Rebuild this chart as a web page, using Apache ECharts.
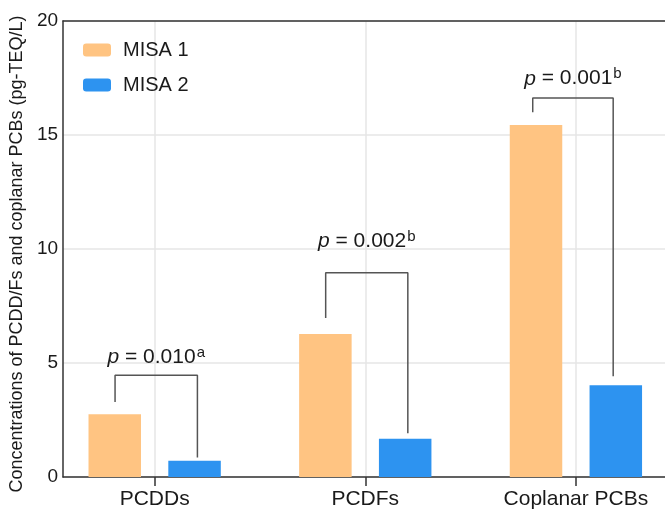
<!DOCTYPE html>
<html><head><meta charset="utf-8">
<script src="https://cdn.jsdelivr.net/npm/echarts@6/dist/echarts.min.js"></script>
<style>html,body{margin:0;padding:0;background:#fff}#c{width:665px;height:513px}</style>
</head><body><div id="c"></div>
<script>
const categories = ['PCDDs', 'PCDFs', 'Coplanar PCBs'];
const misa1 = [2.75, 6.27, 15.44];
const misa2 = [0.71, 1.68, 4.02];
const yTicks = [0, 5, 10, 15, 20];
// significance brackets (x offsets in category units, y in data units)
const bracketLeftOff = [-0.188, -0.188, -0.205];
const bracketRightOff = [0.203, 0.202, 0.177];
const bracketLeftBottom = [3.29, 6.97, 16.0];
const bracketTop = [4.46, 8.96, 16.62];
const bracketRightBottom = [0.85, 1.92, 4.42];
const pValues = ['0.010', '0.002', '0.001'];
const pSup = ['a', 'b', 'b'];
const pLabelY = [5.26, 10.35, 17.47];

const FONT = 'Liberation Sans, Arial, sans-serif';
const chart = echarts.init(document.getElementById('c'), null, {renderer: 'canvas'});

const bracketSeries = categories.map((c, i) => ({
  type: 'line', silent: true, symbol: 'none', z: 5,
  lineStyle: {color: '#555', width: 1.5},
  data: [
    [i + bracketLeftOff[i], bracketLeftBottom[i]],
    [i + bracketLeftOff[i], bracketTop[i]],
    [i + bracketRightOff[i], bracketTop[i]],
    [i + bracketRightOff[i], bracketRightBottom[i]]
  ]
}));

const labelSeries = {
  type: 'scatter', silent: true, symbolSize: 1, z: 6,
  itemStyle: {opacity: 0},
  label: {
    show: true, position: 'inside', opacity: 1,
    formatter: p => '{i|p} = ' + pValues[p.dataIndex] + '{s|' + pSup[p.dataIndex] + '}',
    color: '#1a1a1a', fontSize: 21, fontFamily: FONT,
    rich: {
      i: {fontStyle: 'italic', fontSize: 21, fontFamily: FONT, color: '#1a1a1a'},
      s: {fontSize: 15, fontFamily: FONT, color: '#1a1a1a', verticalAlign: 'top', padding: [0, 0, 9, 1]}
    }
  },
  data: categories.map((c, i) => [i + (bracketLeftOff[i] + bracketRightOff[i]) / 2, pLabelY[i]])
};

chart.setOption({
  animation: false,
  textStyle: {fontFamily: FONT},
  grid: {left: 61, right: 0, top: 21, bottom: 36, containLabel: false},
  legend: {
    data: ['MISA 1', 'MISA 2'], orient: 'vertical', left: 78, top: 34,
    itemWidth: 28, itemHeight: 13, itemGap: 13,
    textStyle: {fontSize: 20, fontFamily: FONT, color: '#1a1a1a', padding: [0, 0, 0, 7], lineHeight: 22}
  },
  xAxis: [{
    type: 'value', min: -0.435, max: 2.423,
    axisLine: {show: true, onZero: false, lineStyle: {color: '#333', width: 1.5}},
    axisTick: {show: true, customValues: [0, 1, 2], length: 9, lineStyle: {color: '#333', width: 1.5}},
    axisLabel: {customValues: [0, 1, 2], formatter: v => categories[Math.round(v)], fontSize: 21, color: '#1a1a1a', margin: 12, fontFamily: FONT},
    splitLine: {show: true, lineStyle: {color: '#e6e6e6', width: 1.5}}
  }, {
    type: 'value', position: 'top', min: -0.435, max: 2.423,
    axisLine: {show: true, onZero: false, lineStyle: {color: '#333', width: 1.5}},
    axisTick: {show: false}, axisLabel: {show: false}, splitLine: {show: false}
  }],
  yAxis: {
    type: 'value', min: yTicks[0], max: yTicks[yTicks.length - 1], interval: 5,
    name: 'Concentrations of PCDD/Fs and coplanar PCBs (pg-TEQ/L)',
    nameLocation: 'middle', nameGap: 25,
    nameTextStyle: {fontSize: 18, color: '#1a1a1a', fontFamily: FONT, padding: [0, 0, 0, -10]},
    axisLine: {show: true, onZero: false, lineStyle: {color: '#333', width: 1.5}},
    axisTick: {show: false},
    axisLabel: {fontSize: 19, color: '#1a1a1a', margin: 5, fontFamily: FONT},
    splitLine: {show: true, lineStyle: {color: '#e6e6e6', width: 1.5}}
  },
  series: [
    {name: 'MISA 1', type: 'bar', barWidth: 52.5, barGap: '52%', itemStyle: {color: '#FFC482'},
     data: misa1.map((v, i) => [i, v])},
    {name: 'MISA 2', type: 'bar', barWidth: 52.5, barGap: '52%', itemStyle: {color: '#2D93F0'},
     data: misa2.map((v, i) => [i, v])},
    ...bracketSeries,
    labelSeries
  ]
});
</script></body></html>
